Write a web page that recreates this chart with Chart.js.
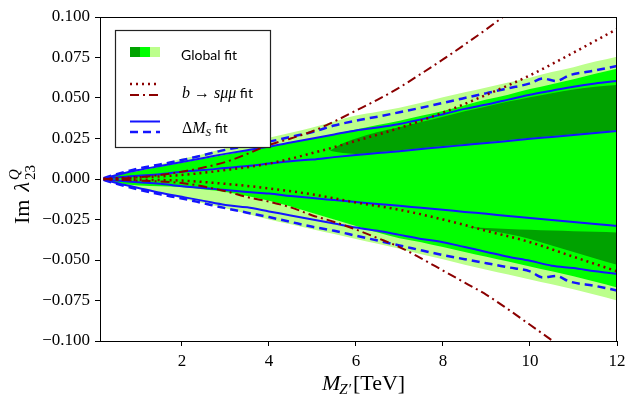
<!DOCTYPE html>
<html>
<head>
<meta charset="utf-8">
<script src="https://cdn.jsdelivr.net/npm/chart.js@4.4.1/dist/chart.umd.min.js"></script>
<style>
  html, body { margin: 0; padding: 0; background: #fff; }
  #wrap { width: 625px; height: 398px; position: relative; }
</style>
</head>
<body>
<div id="wrap"><canvas id="chart"></canvas></div>
<script>
// ---------- data ----------
const xTicks = [2, 4, 6, 8, 10, 12];
const yTicks = [-0.1, -0.075, -0.05, -0.025, 0, 0.025, 0.05, 0.075, 0.1];

const massX = [0.2, 0.5, 1, 1.5, 2, 2.5, 3, 3.5, 4, 4.5, 5, 5.5, 6, 6.5, 7, 7.5, 8, 8.5, 9, 9.5, 10, 10.5, 11, 11.5, 12];

// global fit bands
const lightUpper = [0.001, 0.003, 0.006, 0.009, 0.0125, 0.0155, 0.019, 0.022, 0.0255, 0.0285, 0.0318, 0.0355, 0.0392, 0.0415, 0.044, 0.047, 0.0505, 0.0535, 0.0565, 0.0595, 0.0625, 0.066, 0.069, 0.0725, 0.0755];
const lightLower = [-0.001, -0.003, -0.006, -0.009, -0.012, -0.015, -0.018, -0.0215, -0.025, -0.028, -0.031, -0.034, -0.037, -0.040, -0.043, -0.0465, -0.0495, -0.053, -0.056, -0.059, -0.062, -0.065, -0.068, -0.0715, -0.075];
const greenUpper = [0.0005, 0.0025, 0.005, 0.0075, 0.010, 0.0125, 0.015, 0.0175, 0.020, 0.0225, 0.025, 0.0278, 0.0305, 0.0333, 0.036, 0.039, 0.042, 0.0455, 0.049, 0.052, 0.0555, 0.0585, 0.0615, 0.065, 0.068];
const greenLower = [-0.0005, -0.0025, -0.004, -0.0045, -0.005, -0.0065, -0.008, -0.0105, -0.0135, -0.017, -0.021, -0.025, -0.029, -0.033, -0.0365, -0.039, -0.042, -0.045, -0.048, -0.051, -0.054, -0.057, -0.060, -0.0635, -0.067];

const darkUpX = [5.4, 5.7, 6, 6.5, 7, 7.5, 8, 8.5, 9, 9.5, 10, 10.5, 11, 11.5, 12];
const darkUpTop = [0.0175, 0.022, 0.025, 0.029, 0.032, 0.0352, 0.0385, 0.0418, 0.0448, 0.0478, 0.0505, 0.053, 0.0552, 0.057, 0.058];
const darkUpBot = [0.0175, 0.016, 0.0155, 0.0165, 0.0177, 0.019, 0.0203, 0.0215, 0.0227, 0.024, 0.0253, 0.0265, 0.0277, 0.0289, 0.0301];

const darkLoX = [8.55, 9, 9.5, 10, 10.5, 11, 11.5, 12];
const darkLoTop = [-0.0296, -0.0302, -0.0308, -0.0313, -0.0318, -0.0322, -0.0326, -0.033];
const darkLoBot = [-0.0296, -0.0315, -0.034, -0.037, -0.041, -0.045, -0.049, -0.053];

// Delta M_s fit
const dmsOuterUp = [0.0005, 0.0025, 0.0055, 0.008, 0.0105, 0.013, 0.0155, 0.0178, 0.020, 0.0225, 0.025, 0.0275, 0.030, 0.0318, 0.034, 0.0368, 0.040, 0.0433, 0.046, 0.049, 0.052, 0.0545, 0.057, 0.059, 0.0605];
const dmsOuterLo = [-0.0005, -0.0025, -0.0055, -0.0085, -0.011, -0.0135, -0.016, -0.0175, -0.020, -0.0225, -0.025, -0.0275, -0.030, -0.032, -0.0345, -0.037, -0.039, -0.042, -0.045, -0.048, -0.0505, -0.0535, -0.055, -0.057, -0.0586];
const dmsInnerUp = [0.0005, 0.001, 0.002, 0.003, 0.0045, 0.0055, 0.0068, 0.008, 0.0095, 0.011, 0.012, 0.0135, 0.0148, 0.016, 0.0172, 0.0185, 0.0198, 0.021, 0.0222, 0.0235, 0.0248, 0.026, 0.0272, 0.0284, 0.0296];
const dmsInnerLo = [-0.0005, -0.001, -0.002, -0.003, -0.0045, -0.0055, -0.0068, -0.008, -0.009, -0.0105, -0.0118, -0.013, -0.0142, -0.0154, -0.0165, -0.0178, -0.019, -0.0203, -0.0215, -0.0228, -0.024, -0.0253, -0.0265, -0.0278, -0.029];

const dashX = [0.2, 0.5, 1, 1.5, 2, 2.5, 3, 3.5, 4, 4.5, 5, 5.5, 6, 6.5, 7, 7.5, 8, 8.5, 9, 9.5, 10, 10.3, 10.6, 10.9, 11.5, 12];
const dmsDashUp = [0.0005, 0.003, 0.0065, 0.009, 0.0117, 0.0148, 0.018, 0.0205, 0.023, 0.026, 0.029, 0.033, 0.036, 0.0385, 0.0412, 0.044, 0.047, 0.050, 0.053, 0.056, 0.059, 0.062, 0.0605, 0.064, 0.067, 0.0698];
const dmsDashLo = [-0.0005, -0.003, -0.0065, -0.0095, -0.012, -0.015, -0.018, -0.0208, -0.0235, -0.0265, -0.0295, -0.032, -0.035, -0.038, -0.041, -0.044, -0.047, -0.0495, -0.052, -0.0545, -0.057, -0.0608, -0.0598, -0.0632, -0.066, -0.0688];

// b -> s mu mu fit
const dotX = [0.2, 1, 2, 3, 4, 5, 6, 7, 8, 9, 10, 11, 12];
const bsDotUp = [0.0002, 0.001, 0.0025, 0.0055, 0.0095, 0.016, 0.0235, 0.0315, 0.041, 0.052, 0.064, 0.078, 0.0926];
const bsDotLo = [-0.0002, -0.0005, -0.001, -0.003, -0.0058, -0.0095, -0.0145, -0.019, -0.025, -0.032, -0.039, -0.048, -0.057];

const ddX = [0.2, 1, 2, 3, 3.5, 4, 4.5, 5, 5.5, 6, 6.5, 7, 7.5, 8, 8.5, 9, 9.5, 10, 10.5, 11];
const bsDashDotUp = [0, 0.001, 0.0045, 0.0105, 0.0155, 0.021, 0.025, 0.0295, 0.0355, 0.0422, 0.049, 0.0565, 0.065, 0.0738, 0.083, 0.0925, 0.1025, 0.113, 0.124, 0.135];
const bsDashDotLo = [0, -0.001, -0.0025, -0.0075, -0.0112, -0.014, -0.0175, -0.0225, -0.0265, -0.0312, -0.0365, -0.042, -0.049, -0.0565, -0.064, -0.0715, -0.0805, -0.090, -0.0995, -0.109];

// ---------- styles ----------
const LIGHT = "#bcff8c";
const BRIGHT = "#00ff00";
const DARK = "#00a200";
const BLUE = "#1414ff";
const RED = "#8b0000";
const SERIF = "'Liberation Serif', 'DejaVu Serif', serif";

function pts(xs, ys) {
    return xs.map((x, i) => ({ x: x, y: ys[i] }));
}

function band(xs, ys, color, order) {
    return { data: pts(xs, ys), borderWidth: 0, borderColor: color, backgroundColor: color, fill: "+1", order: order };
}
function edge(xs, ys, order) {
    return { data: pts(xs, ys), borderWidth: 0, borderColor: "rgba(0,0,0,0)", fill: false, order: order };
}
function line(xs, ys, color, width, dash) {
    return { data: pts(xs, ys), borderColor: color, borderWidth: width, borderDash: dash, fill: false, order: 1 };
}

const datasets = [
    band(massX, lightUpper, LIGHT, 10), edge(massX, lightLower, 10),
    band(massX, greenUpper, BRIGHT, 9), edge(massX, greenLower, 9),
    band(darkUpX, darkUpTop, DARK, 8), edge(darkUpX, darkUpBot, 8),
    band(darkLoX, darkLoTop, DARK, 8), edge(darkLoX, darkLoBot, 8),
    line(dotX, bsDotUp, RED, 2.5, [2, 4]),
    line(dotX, bsDotLo, RED, 2.5, [2, 4]),
    line(ddX, bsDashDotUp, RED, 2, [9, 4, 2, 4]),
    line(ddX, bsDashDotLo, RED, 2, [9, 4, 2, 4]),
    line(massX, dmsOuterUp, BLUE, 2, []),
    line(massX, dmsOuterLo, BLUE, 2, []),
    line(massX, dmsInnerUp, BLUE, 2, []),
    line(massX, dmsInnerLo, BLUE, 2, []),
    line(dashX, dmsDashUp, BLUE, 2.5, [8, 5]),
    line(dashX, dmsDashLo, BLUE, 2.5, [8, 5])
];

// draws runs of text with their own font and vertical shift
function drawRuns(ctx, x, y, runs) {
    runs.forEach(r => {
        ctx.font = r.font;
        ctx.fillText(r.text, x + (r.dx || 0), y + (r.dy || 0));
        x += (r.dx || 0) + ctx.measureText(r.text).width;
    });
    return x;
}

// frame, legend and axis titles
const decorPlugin = {
    id: "decor",
    afterDraw(chart) {
        const ctx = chart.ctx;
        const a = chart.chartArea;
        ctx.save();
        ctx.strokeStyle = "#000";
        ctx.lineWidth = 1;
        ctx.strokeRect(Math.round(a.left) - 0.5, Math.round(a.top) + 0.5, Math.round(a.right - a.left), Math.round(a.bottom - a.top));

        // legend box
        ctx.fillStyle = "#fff";
        ctx.fillRect(115, 30, 155, 117);
        ctx.strokeStyle = "#222";
        ctx.lineWidth = 1.2;
        ctx.strokeRect(115.5, 30.5, 155, 117);

        // swatches
        ctx.fillStyle = DARK;   ctx.fillRect(130, 47, 10, 10);
        ctx.fillStyle = BRIGHT; ctx.fillRect(140, 47, 10, 10);
        ctx.fillStyle = LIGHT;  ctx.fillRect(150, 47, 10, 10);

        ctx.lineCap = "butt";
        ctx.strokeStyle = RED;
        ctx.lineWidth = 2.5;
        ctx.setLineDash([2, 4]);
        ctx.beginPath(); ctx.moveTo(130, 84); ctx.lineTo(160, 84); ctx.stroke();
        ctx.lineWidth = 2;
        ctx.setLineDash([9, 4, 2, 4]);
        ctx.beginPath(); ctx.moveTo(130, 95); ctx.lineTo(160, 95); ctx.stroke();

        ctx.strokeStyle = BLUE;
        ctx.setLineDash([]);
        ctx.beginPath(); ctx.moveTo(130, 121.5); ctx.lineTo(160, 121.5); ctx.stroke();
        ctx.lineWidth = 2.5;
        ctx.setLineDash([8, 5]);
        ctx.beginPath(); ctx.moveTo(130, 132); ctx.lineTo(160, 132); ctx.stroke();
        ctx.setLineDash([]);

        ctx.fillStyle = "#000";
        ctx.textBaseline = "alphabetic";
        ctx.textAlign = "left";
        const sans = "14px Lato, 'Open Sans', sans-serif";
        drawRuns(ctx, 181, 60, [{ text: "Global fit", font: sans }]);
        drawRuns(ctx, 182, 98, [
            { text: "b", font: "italic 16px " + SERIF },
            { text: " \u2192 ", font: "16px " + SERIF },
            { text: "s\u03bc\u03bc", font: "italic 16px " + SERIF },
            { text: " fit", font: sans }
        ]);
        drawRuns(ctx, 182, 133, [
            { text: "\u0394", font: "16px " + SERIF },
            { text: "M", font: "italic 16px " + SERIF },
            { text: "S", font: "italic 11px " + SERIF, dy: 3 },
            { text: " fit", font: sans }
        ]);

        // x title
        let x = drawRuns(ctx, 322, 390, [
            { text: "M", font: "italic 22px " + SERIF },
            { text: "Z\u2032", font: "italic 15px " + SERIF, dy: 4, dx: -1 }
        ]);
        drawRuns(ctx, x + 2, 390, [{ text: "[TeV]", font: "22px " + SERIF }]);

        // y title, rotated
        ctx.translate(29, 224);
        ctx.rotate(-Math.PI / 2);
        x = drawRuns(ctx, 0, 0, [
            { text: "Im", font: "22px " + SERIF },
            { text: "\u03bb", font: "italic 22px " + SERIF, dx: 8 }
        ]);
        ctx.font = "italic 15px " + SERIF;
        ctx.fillText("Q", x + 2, -10);
        ctx.font = "15px " + SERIF;
        ctx.fillText("23", x + 2, 6);
        ctx.restore();
    }
};

const tickFont = { family: SERIF, size: 17 };

new Chart(document.getElementById("chart"), {
    type: "line",
    data: { datasets: datasets },
    options: {
        responsive: true,
        maintainAspectRatio: false,
        animation: false,
        layout: { padding: { top: 17, right: 8, left: 0, bottom: 0 }, autoPadding: false },
        elements: {
            point: { radius: 0 },
            line: { cubicInterpolationMode: "monotone" }
        },
        plugins: {
            legend: { display: false },
            tooltip: { enabled: false }
        },
        scales: {
            x: {
                type: "linear",
                min: 0.14,
                max: 12,
                afterBuildTicks: s => { s.ticks = xTicks.map(v => ({ value: v })); },
                afterFit: s => { s.height = 57; s.paddingLeft = 0; s.paddingRight = 0; },
                ticks: { font: tickFont, color: "#000", padding: 5, maxRotation: 0, autoSkip: false, callback: v => String(v) },
                grid: { display: true, drawOnChartArea: false, drawTicks: true, tickLength: 5, color: "#000" },
                border: { display: false }
            },
            y: {
                type: "linear",
                min: -0.1,
                max: 0.1,
                afterBuildTicks: s => { s.ticks = yTicks.map(v => ({ value: v })); },
                afterFit: s => { s.width = 101; s.paddingTop = 0; s.paddingBottom = 0; },
                ticks: {
                    font: tickFont, color: "#000", padding: 5, autoSkip: false,
                    callback: v => (v < -1e-9 ? "\u2212" : "") + Math.abs(v).toFixed(3)
                },
                grid: { display: true, drawOnChartArea: false, drawTicks: true, tickLength: 6, color: "#000" },
                border: { display: false }
            }
        }
    },
    plugins: [decorPlugin]
});
</script>
</body>
</html>
